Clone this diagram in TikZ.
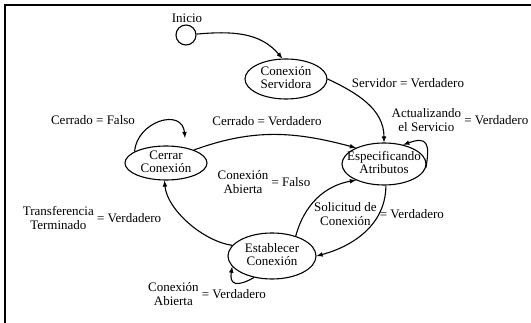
\documentclass[tikz,border=0pt]{standalone}
\usepackage{fontspec}
\setmainfont{Liberation Serif}
\usepackage{tikz}
\usetikzlibrary{arrows,shapes.geometric}

\newcommand{\dos}[2]{\begin{tabular}{@{}c@{}}#1\\#2\end{tabular}}
\newcommand{\estado}[2]{\makebox[0pt]{\smash{\raisebox{-3.5pt}{\dos{#1}{#2}}}}}

\begin{document}
\begin{tikzpicture}[x=1pt,y=1pt,line width=1.1pt,>=latex,
  every node/.style={font=\fontsize{13}{13.5}\selectfont,inner sep=0pt},
  estado/.style={ellipse,draw,inner sep=0pt}]
\useasboundingbox (0,0) rectangle (531,-323);
\draw (5,-323) -- (5,-5) -- (531,-5);

% estados
\node[circle,draw,minimum size=20pt] (ini) at (186,-35) {};
\node (ini-lbl) at (187,-18) {Inicio};
\node[estado,minimum width=82pt,minimum height=40pt] (srv) at (286,-79) {\estado{Conexión}{Servidora}};
\node[estado,minimum width=84pt,minimum height=42pt] (esp) at (384,-164) {\estado{Especificando}{Atributos}};
\node[estado,minimum width=82pt,minimum height=34pt] (cer) at (166,-163) {\estado{Cerrar}{Conexión}};
\node[estado,minimum width=88pt,minimum height=46pt] (est) at (272,-256) {\estado{Establecer}{Conexión}};
\coordinate (cer-loop) at (185,-138);

% transiciones
\draw[->] (ini) to[out=5,in=130] (srv.100);
\draw[->] (srv.east) to[out=-25,in=90] (esp.north);
\draw[->] (esp.-5) to[out=80,in=20,looseness=2] (esp.45);
\draw[->] (cer.25) to[out=20,in=165] (esp.150);
\draw[->] (cer.160) to[out=85,in=95,looseness=1.5] (cer-loop);
\draw[->] (est.165) to[out=172,in=-85,looseness=0.8] (cer.-95);
\draw[->] (est.40) to[out=75,in=190] (esp.-150);
\draw[->] (esp.-85) to[out=-90,in=15] (est.east);
\draw[->] (est.-130) to[out=-150,in=-100,looseness=2] (est.195);

% etiquetas
\node (lbl-srv) at (408,-83) {Servidor = Verdadero};
\node (lbl-act) at (460,-122) {\dos{Actualizando}{el Servicio} = Verdadero};
\node (lbl-cv) at (267,-121) {Cerrado = Verdadero};
\node (lbl-cf) at (93,-120) {Cerrado = Falso};
\node (lbl-ab) at (264,-184) {\dos{Conexión}{Abierta} = Falso};
\node (lbl-tr) at (92,-220) {\dos{Transferencia}{Terminado} = Verdadero};
\node (lbl-sol) at (379,-216) {\dos{Solicitud de}{Conexión} = Verdadero};
\node (lbl-ab2) at (207,-296) {\dos{Conexión}{Abierta} = Verdadero};
\end{tikzpicture}
\end{document}
